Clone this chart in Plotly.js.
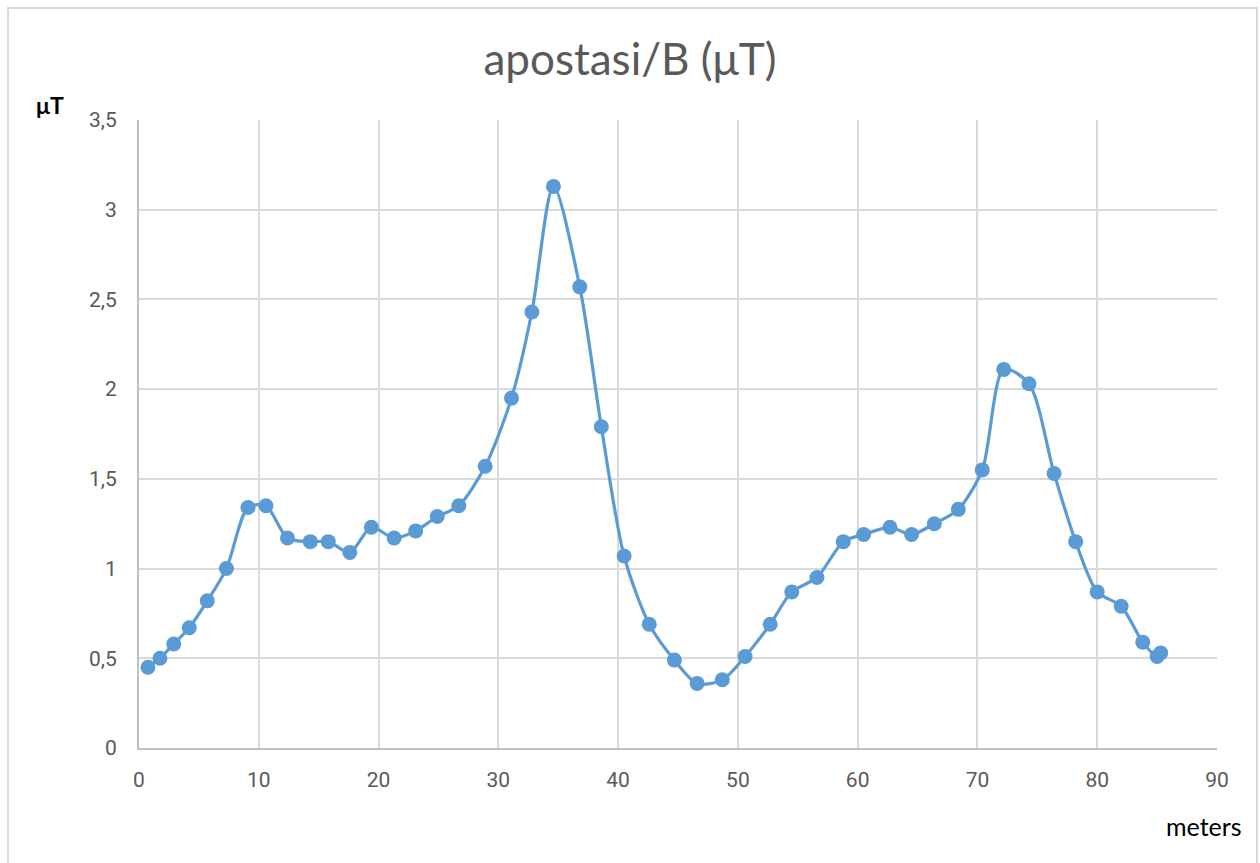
<!DOCTYPE html>
<html>
<head>
<meta charset="utf-8">
<script src="https://cdn.plot.ly/plotly-3.0.1.min.js"></script>
<style>html,body{margin:0;padding:0;background:#fff;}#chart{width:1260px;height:863px;}</style>
</head>
<body>
<div id="chart"></div>
<script>
const distance = [0.75,1.75,2.9,4.2,5.7,7.3,9.1,10.6,12.4,14.3,15.8,17.6,19.4,21.3,23.1,24.9,26.7,28.9,31.1,32.8,34.6,36.8,38.6,40.5,42.6,44.7,46.6,48.7,50.6,52.7,54.5,56.6,58.8,60.5,62.7,64.5,66.4,68.4,70.4,72.2,74.3,76.4,78.2,80.0,82.0,83.8,85.0,85.3];
const fieldB = [0.45,0.50,0.58,0.67,0.82,1.00,1.34,1.35,1.17,1.15,1.15,1.09,1.23,1.17,1.21,1.29,1.35,1.57,1.95,2.43,3.13,2.57,1.79,1.07,0.69,0.49,0.36,0.38,0.51,0.69,0.87,0.95,1.15,1.19,1.23,1.19,1.25,1.33,1.55,2.11,2.03,1.53,1.15,0.87,0.79,0.59,0.51,0.53];
const xTicks = [0,10,20,30,40,50,60,70,80,90];
const yTicks = [0,0.5,1,1.5,2,2.5,3,3.5];
const yTickText = ['0','0,5','1','1,5','2','2,5','3','3,5'];

const W = 1260, H = 863, L = 139, R = 43, T = 120, B = 115;
const pw = W - L - R, ph = H - T - B;
const px = v => (v - L) / pw;
const py = v => (H - B - v) / ph;

const trace = {
  x: distance, y: fieldB, type: 'scatter', mode: 'lines+markers',
  line: {color: '#5B9BD5', width: 3.2, shape: 'spline', smoothing: 0.8},
  marker: {color: '#5B9BD5', size: 15},
  hoverinfo: 'x+y', showlegend: false
};

const layout = {
  width: W, height: H,
  margin: {l: L, r: R, t: T, b: B},
  paper_bgcolor: '#ffffff', plot_bgcolor: '#ffffff',
  font: {family: 'Roboto, sans-serif', color: '#595959'},
  title: {text: 'apostasi/B (μT)', font: {family: 'Lato, "Open Sans", sans-serif', size: 44, color: '#595959'},
          x: 0.5, xanchor: 'center', y: 1 - 60/H, yanchor: 'middle'},
  xaxis: {range: [0, 90], tickvals: xTicks, ticktext: xTicks.map(String),
          showgrid: true, gridcolor: '#d9d9d9', gridwidth: 2,
          showline: true, linecolor: '#bfbfbf', linewidth: 2, zeroline: false,
          ticks: '', ticklen: 0, ticklabelstandoff: 12, tickfont: {size: 21, color: '#595959'}, automargin: false},
  yaxis: {range: [0, 3.5], tickvals: yTicks, ticktext: yTickText,
          showgrid: true, gridcolor: '#d9d9d9', gridwidth: 2,
          showline: true, linecolor: '#bfbfbf', linewidth: 2, zeroline: false,
          ticks: '', ticklabelstandoff: 16, tickfont: {size: 21, color: '#595959'}, automargin: false},
  annotations: [
    {text: '<b>μT</b>', xref: 'paper', yref: 'paper', x: px(50), y: py(105), xanchor: 'center', yanchor: 'middle',
     showarrow: false, font: {size: 23, color: '#000000', family: 'Lato, "Open Sans", sans-serif'}},
    {text: 'meters', xref: 'paper', yref: 'paper', x: px(1204), y: py(826), xanchor: 'center', yanchor: 'middle',
     showarrow: false, font: {size: 25, color: '#000000', family: 'Lato, "Open Sans", sans-serif'}}
  ],
  shapes: [
    {type: 'rect', xref: 'paper', yref: 'paper', x0: px(8), x1: px(1257), y0: py(880), y1: py(8),
     line: {color: '#d9d9d9', width: 2}, fillcolor: 'rgba(0,0,0,0)', layer: 'below'}
  ]
};

Plotly.newPlot('chart', [trace], layout, {displayModeBar: false, staticPlot: true});
</script>
</body>
</html>
